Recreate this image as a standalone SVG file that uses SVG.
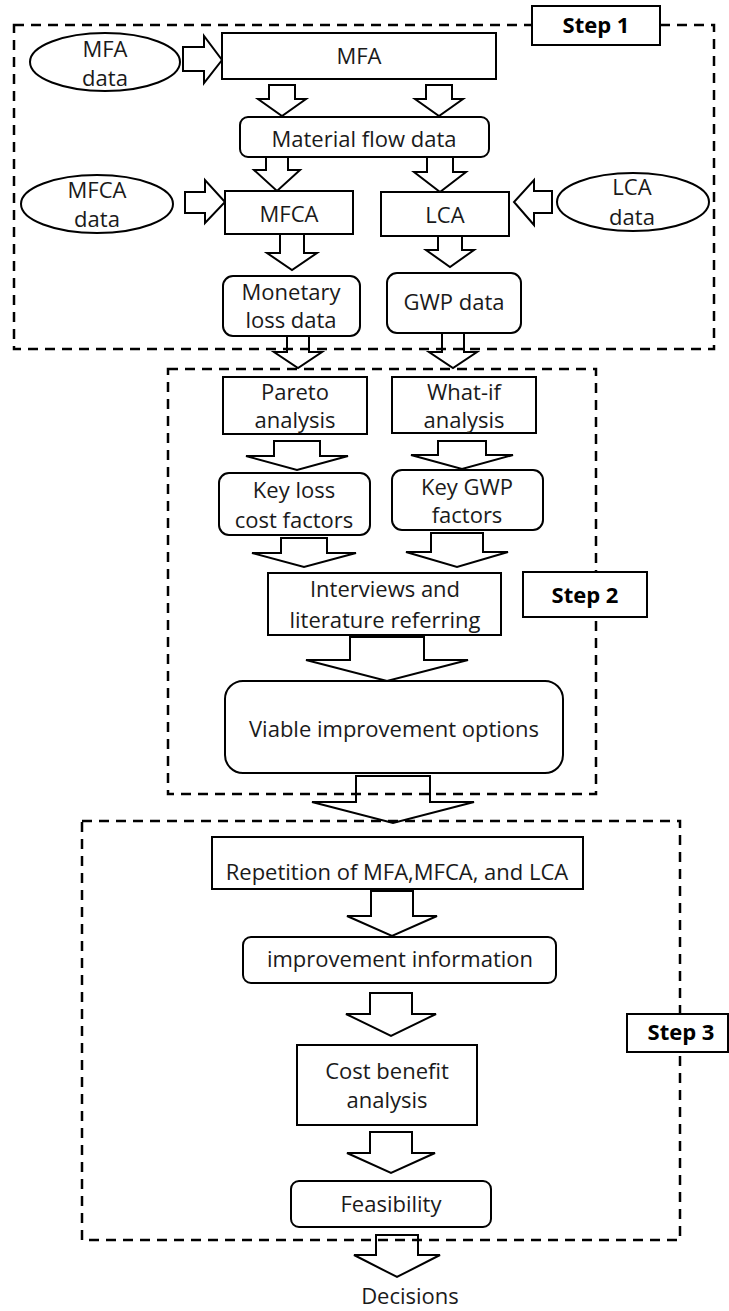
<svg xmlns="http://www.w3.org/2000/svg" width="729" height="1311" viewBox="0 0 729 1311">
  <style>
    .box { fill: #ffffff; stroke: #000000; stroke-width: 2; }
    .stage { fill: none; stroke: #000000; stroke-width: 2.5; stroke-dasharray: 10 7; }
    .arrow { fill: #ffffff; stroke: #000000; stroke-width: 2; stroke-linejoin: miter; }
    .t { font-family: "Open Sans", "Noto Sans", sans-serif; font-size: 22px; fill: #1a1a1a; text-anchor: middle; }
    .lbl { font-family: "Open Sans", "Noto Sans", sans-serif; font-size: 22px; font-weight: bold; fill: #000000; text-anchor: middle; }
  </style>
  <rect width="729" height="1311" fill="#ffffff"/>

  <!-- block arrows -->
  <g id="connectors">
    <!-- horizontal inputs -->
    <polygon class="arrow" points="183,47 204,47 204,36 222,60 204,83 204,71 183,71"/>
    <polygon class="arrow" points="185,192 205,192 205,180 225,202 205,223 205,213 185,213"/>
    <polygon class="arrow" points="552,191 534,191 534,180 514,202 534,225 534,213 552,213"/>
    <!-- step 1 -->
    <polygon class="arrow" points="269,85 295,85 295,99 306,99 282,116 258,99 269,99"/>
    <polygon class="arrow" points="426,85 452,85 452,99 463,99 439,116 415,99 426,99"/>
    <polygon class="arrow" points="266,157 288,157 288,170 300,170 277,191 254,170 266,170"/>
    <polygon class="arrow" points="427,157 453,157 453,172 466,172 440,192 414,172 427,172"/>
    <polygon class="arrow" points="280,234 304,234 304,253 317,253 292,270 267,253 280,253"/>
    <polygon class="arrow" points="438,236 462,236 462,250 474,250 450,267 426,250 438,250"/>
    <!-- step 1 to step 2 -->
    <polygon class="arrow" points="287,336 309,336 309,352 322,352 298,368 274,352 287,352"/>
    <polygon class="arrow" points="442,333 464,333 464,352 477,352 453,368 429,352 442,352"/>
    <!-- step 2 -->
    <polygon class="arrow" points="274,441 320,441 320,456 348,456 297,470 246,456 274,456"/>
    <polygon class="arrow" points="438,441 486,441 486,455 513,455 462,469 411,455 438,455"/>
    <polygon class="arrow" points="281,538 327,538 327,553 356,553 304,567 252,553 281,553"/>
    <polygon class="arrow" points="431,533 483,533 483,552 508,552 457,567 406,552 431,552"/>
    <polygon class="arrow" points="350,637 424,637 424,660 468,660 387,681 306,660 350,660"/>
    <!-- step 2 to step 3 -->
    <polygon class="arrow" points="356,776 430,776 430,802 474,802 393,823 312,802 356,802"/>
    <!-- step 3 -->
    <polygon class="arrow" points="371,891 413,891 413,916 437,916 392,936 347,916 371,916"/>
    <polygon class="arrow" points="370,993 412,993 412,1014 436,1014 391,1036 346,1014 370,1014"/>
    <polygon class="arrow" points="370,1132 412,1132 412,1153 435,1153 391,1173 347,1153 370,1153"/>
    <polygon class="arrow" points="376,1235 418,1235 418,1255 440,1255 397,1277 354,1255 376,1255"/>
  </g>

  <!-- stage frames, drawn over the arrows that cross them -->
  <g id="stages">
    <rect class="stage" x="14" y="25" width="700" height="324"/>
    <rect class="stage" x="168" y="369" width="428" height="425"/>
    <rect class="stage" x="82" y="821" width="598" height="419"/>
  </g>

  <!-- step labels -->
  <g id="step1-label">
    <rect class="box" x="532" y="6" width="128" height="39"/>
    <text class="lbl" x="596" y="33">Step 1</text>
  </g>
  <g id="step2-label">
    <rect class="box" x="523" y="572" width="124" height="45"/>
    <text class="lbl" x="585" y="603">Step 2</text>
  </g>
  <g id="step3-label">
    <rect class="box" x="627" y="1014" width="101" height="38"/>
    <text class="lbl" x="681" y="1040">Step 3</text>
  </g>

  <!-- step 1 nodes -->
  <g id="mfa-data">
    <ellipse class="box" cx="105" cy="62" rx="75" ry="29"/>
    <text class="t" x="105" y="57">MFA</text>
    <text class="t" x="105" y="86">data</text>
  </g>
  <g id="mfa">
    <rect class="box" x="222" y="33" width="274" height="46"/>
    <text class="t" x="359" y="64">MFA</text>
  </g>
  <g id="material-flow-data">
    <rect class="box" x="240" y="117" width="249" height="40" rx="8"/>
    <text class="t" x="364" y="147">Material flow data</text>
  </g>
  <g id="mfca-data">
    <ellipse class="box" cx="97" cy="204" rx="76" ry="29"/>
    <text class="t" x="97" y="198">MFCA</text>
    <text class="t" x="97" y="227">data</text>
  </g>
  <g id="mfca">
    <rect class="box" x="225" y="191" width="128" height="43"/>
    <text class="t" x="289" y="222">MFCA</text>
  </g>
  <g id="lca">
    <rect class="box" x="381" y="192" width="128" height="44"/>
    <text class="t" x="445" y="223">LCA</text>
  </g>
  <g id="lca-data">
    <ellipse class="box" cx="633" cy="202" rx="76" ry="29"/>
    <text class="t" x="632" y="195">LCA</text>
    <text class="t" x="632" y="225">data</text>
  </g>
  <g id="monetary-loss-data">
    <rect class="box" x="223" y="276" width="137" height="60" rx="10"/>
    <text class="t" x="291" y="300">Monetary</text>
    <text class="t" x="291" y="328">loss data</text>
  </g>
  <g id="gwp-data">
    <rect class="box" x="387" y="273" width="134" height="60" rx="10"/>
    <text class="t" x="454" y="310">GWP data</text>
  </g>

  <!-- step 2 nodes -->
  <g id="pareto">
    <rect class="box" x="223" y="377" width="144" height="57"/>
    <text class="t" x="295" y="400">Pareto</text>
    <text class="t" x="295" y="428">analysis</text>
  </g>
  <g id="what-if">
    <rect class="box" x="392" y="377" width="144" height="56"/>
    <text class="t" x="464" y="400">What-if</text>
    <text class="t" x="464" y="428">analysis</text>
  </g>
  <g id="key-loss">
    <rect class="box" x="219" y="473" width="151" height="62" rx="10"/>
    <text class="t" x="294" y="498">Key loss</text>
    <text class="t" x="294" y="528">cost factors</text>
  </g>
  <g id="key-gwp">
    <rect class="box" x="392" y="470" width="151" height="60" rx="10"/>
    <text class="t" x="467" y="495">Key GWP</text>
    <text class="t" x="467" y="523">factors</text>
  </g>
  <g id="interviews">
    <rect class="box" x="268" y="573" width="233" height="62"/>
    <text class="t" x="385" y="597">Interviews and</text>
    <text class="t" x="385" y="628">literature referring</text>
  </g>
  <g id="viable-options">
    <rect class="box" x="225" y="681" width="338" height="92" rx="18"/>
    <text class="t" x="394" y="737">Viable improvement options</text>
  </g>

  <!-- step 3 nodes -->
  <g id="repetition">
    <rect class="box" x="212" y="837" width="371" height="52"/>
    <text class="t" x="397" y="880">Repetition of MFA,MFCA, and LCA</text>
  </g>
  <g id="improvement-information">
    <rect class="box" x="243" y="937" width="313" height="46" rx="8"/>
    <text class="t" x="400" y="967">improvement information</text>
  </g>
  <g id="cost-benefit">
    <rect class="box" x="297" y="1045" width="180" height="80"/>
    <text class="t" x="387" y="1079">Cost benefit</text>
    <text class="t" x="387" y="1108">analysis</text>
  </g>
  <g id="feasibility">
    <rect class="box" x="291" y="1181" width="200" height="46" rx="8"/>
    <text class="t" x="391" y="1212">Feasibility</text>
  </g>
  <g id="decisions">
    <text class="t" x="410" y="1304">Decisions</text>
  </g>
</svg>
